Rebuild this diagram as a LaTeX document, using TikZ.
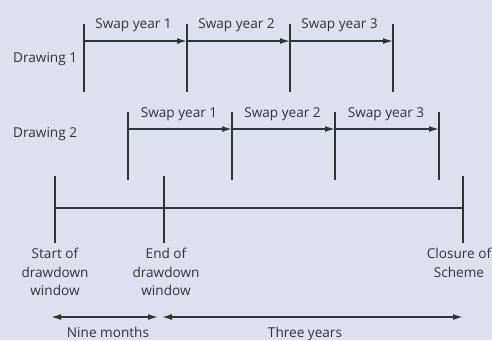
\documentclass[tikz,border=0pt]{standalone}
\usepackage{fontspec}
\setmainfont{Open Sans}
\usetikzlibrary{arrows.meta}
\definecolor{bg}{RGB}{221,225,238}
\definecolor{ink}{RGB}{50,50,55}
\tikzset{
  tick/.style={draw=ink, line width=1.5bp},
  span/.style={draw=ink, line width=1.5bp, -{Latex[length=10bp,width=6bp]}},
  twospan/.style={draw=ink, line width=1.5bp, {Latex[length=10bp,width=6bp]}-{Latex[length=10bp,width=6bp]}},
  lbl/.style={text=ink, inner sep=0pt, anchor=base, font=\fontsize{13.6bp}{18.5bp}\selectfont},
  mlbl/.style={text=ink, inner sep=0pt, anchor=north, align=center, font=\fontsize{13.6bp}{18.5bp}\selectfont},
}
\begin{document}
\begin{tikzpicture}[x=1bp, y=-1bp]
\fill[bg] (0,0) rectangle (492,340);
\useasboundingbox (0,0) rectangle (492,340);

% Drawing 1
\foreach \n/\x in {1/84,2/187,3/290,4/393}{
  \coordinate (a\n t) at (\x,24);
  \coordinate (a\n b) at (\x,92);
  \coordinate (a\n m) at (\x,41);
  \draw[tick] (a\n t) -- (a\n b);
}
\draw[span] (a1m) -- (a2m);
\draw[span] (a2m) -- (a3m);
\draw[span] (a3m) -- (a4m);
\node[lbl] (s11) at (133.5,28) {Swap year 1};
\node[lbl] (s12) at (236.5,28) {Swap year 2};
\node[lbl] (s13) at (339.5,28) {Swap year 3};
\node[lbl, anchor=base west] (d1) at (13,62) {Drawing 1};

% Drawing 2
\foreach \n/\x in {1/128,2/232,3/335,4/439}{
  \coordinate (b\n t) at (\x,112);
  \coordinate (b\n b) at (\x,180);
  \coordinate (b\n m) at (\x,129);
  \draw[tick] (b\n t) -- (b\n b);
}
\draw[span] (b1m) -- (b2m);
\draw[span] (b2m) -- (b3m);
\draw[span] (b3m) -- (b4m);
\node[lbl] (s21) at (179,117) {Swap year 1};
\node[lbl] (s22) at (282.5,117) {Swap year 2};
\node[lbl] (s23) at (386,117) {Swap year 3};
\node[lbl, anchor=base west] (d2) at (13,137) {Drawing 2};

% Main timeline
\foreach \n/\x in {1/55,2/164,3/463}{
  \coordinate (m\n t) at (\x,176);
  \coordinate (m\n b) at (\x,243);
  \coordinate (m\n m) at (\x,208);
  \draw[tick] (m\n t) -- (m\n b);
}
\draw[tick] (m1m) -- (m3m);

\node[mlbl] (start) at (55,248) {Start of\\drawdown\\window};
\node[mlbl] (end) at (166,248) {End of\\drawdown\\window};
\node[mlbl] (close) at (459,248) {Closure of\\Scheme};

% Durations
\coordinate (n1) at (51,317);
\coordinate (n2) at (158,317);
\coordinate (t1) at (162,317);
\coordinate (t2) at (463,317);
\draw[twospan] (n1) -- (n2);
\draw[twospan] (t1) -- (t2);
\node[lbl] (nine) at (108,337) {Nine months};
\node[lbl] (three) at (305,337) {Three years};
\end{tikzpicture}
\end{document}
